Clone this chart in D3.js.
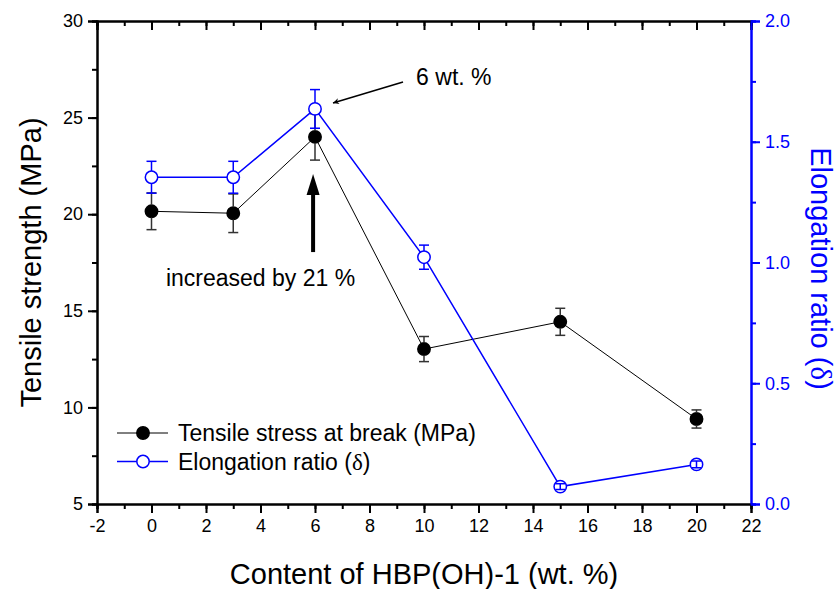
<!DOCTYPE html>
<html>
<head>
<meta charset="utf-8">
<script src="https://cdn.jsdelivr.net/npm/d3@7"></script>
<style>
  html, body { margin: 0; padding: 0; background: #fff; }
  svg { display: block; font-family: "Liberation Sans", Arial, sans-serif; }
</style>
</head>
<body>
<svg id="chart" width="839" height="589"></svg>
<script>
// ---- data ----
const contents = [0, 3, 6, 10, 15, 20];
const tensile = [20.15, 20.05, 24.0, 13.02, 14.43, 9.4];
const tensileErr = [0.95, 1.0, 1.2, 0.65, 0.7, 0.47];
const elongation = [1.353, 1.353, 1.636, 1.022, 0.072, 0.164];
const elongationErr = [0.066, 0.066, 0.08, 0.05, 0.012, 0.014];
const xTicks = [-2, 0, 2, 4, 6, 8, 10, 12, 14, 16, 18, 20, 22];
const yLeftTicks = [5, 10, 15, 20, 25, 30];
const yRightTicks = [0.0, 0.5, 1.0, 1.5, 2.0];
const seriesNames = ["Tensile stress at break (MPa)", "Elongation ratio ("];

const W = 839, H = 589;
const m = { left: 97, right: 88, top: 21, bottom: 85 };
const svg = d3.select("#chart");
const blue = "#0000ff";
const serif = "Liberation Serif, Times New Roman, serif";

const x = d3.scaleLinear().domain([-2, 22]).range([m.left, W - m.right]);
const yL = d3.scaleLinear().domain([5, 30]).range([H - m.bottom, m.top]);
const yR = d3.scaleLinear().domain([0, 2]).range([H - m.bottom, m.top]);

const minorX = d3.range(-2, 22.01, 1);
const minorL = d3.range(5, 30.01, 2.5);
const minorR = d3.range(0, 2.001, 0.25);

function styleAxis(g, color) {
  g.select(".domain").attr("stroke", color).attr("stroke-width", 2);
  g.selectAll(".tick line").attr("stroke", color).attr("stroke-width", 2);
  g.selectAll(".tick text").attr("fill", color).attr("font-size", 18)
    .attr("font-family", "Liberation Sans, Arial, sans-serif");
}
const intFmt = d => String(d);

// minor ticks first
svg.append("g").attr("transform", `translate(0,${H - m.bottom})`)
  .call(d3.axisBottom(x).tickValues(minorX).tickSize(5).tickFormat(""))
  .call(g => styleAxis(g, "#000"));
svg.append("g").attr("transform", `translate(0,${m.top})`)
  .call(d3.axisBottom(x).tickValues(minorX).tickSize(5).tickFormat(""))
  .call(g => styleAxis(g, "#000"));
svg.append("g").attr("transform", `translate(${m.left},0)`)
  .call(d3.axisLeft(yL).tickValues(minorL).tickSize(5).tickFormat(""))
  .call(g => styleAxis(g, "#000"));
svg.append("g").attr("transform", `translate(${W - m.right},0)`)
  .call(d3.axisRight(yR).tickValues(minorR).tickSize(5).tickFormat(""))
  .call(g => styleAxis(g, blue));

// major ticks
svg.append("g").attr("transform", `translate(0,${H - m.bottom})`)
  .call(d3.axisBottom(x).tickValues(xTicks).tickSize(9).tickPadding(6).tickFormat(intFmt))
  .call(g => styleAxis(g, "#000"));
svg.append("g").attr("transform", `translate(0,${m.top})`)
  .call(d3.axisBottom(x).tickValues(xTicks).tickSize(9).tickFormat(""))
  .call(g => styleAxis(g, "#000"));
svg.append("g").attr("transform", `translate(${m.left},0)`)
  .call(d3.axisLeft(yL).tickValues(yLeftTicks).tickSize(9).tickPadding(5).tickFormat(intFmt))
  .call(g => styleAxis(g, "#000"));
svg.append("g").attr("transform", `translate(${W - m.right},0)`)
  .call(d3.axisRight(yR).tickValues(yRightTicks).tickSize(9).tickPadding(5).tickFormat(d3.format(".1f")))
  .call(g => styleAxis(g, blue));

// axis titles
svg.append("text").attr("x", (m.left + W - m.right) / 2 + 0).attr("y", 584)
  .attr("text-anchor", "middle").attr("font-size", 29).text("Content of HBP(OH)-1 (wt. %)");
svg.append("text").attr("transform", `translate(41,${(m.top + H - m.bottom) / 2}) rotate(-90)`)
  .attr("text-anchor", "middle").attr("font-size", 29).text("Tensile strength (MPa)");
const rt = svg.append("text").attr("transform", `translate(811,${(m.top + H - m.bottom) / 2 + 6}) rotate(90)`)
  .attr("text-anchor", "middle").attr("font-size", 29).attr("fill", blue);
rt.append("tspan").text("Elongation ratio (");
rt.append("tspan").attr("font-family", serif).text("\u03b4");
rt.append("tspan").text(")");

const R = 6.2, cap = 5;
function drawSeries(ys, errs, yScale, color, lineW, filled) {
  const pts = contents.map((c, i) => ({ x: c, y: ys[i], e: errs[i] }));
  const g = svg.append("g");
  g.append("path").datum(pts)
    .attr("d", d3.line().x(d => x(d.x)).y(d => yScale(d.y)))
    .attr("fill", "none").attr("stroke", color).attr("stroke-width", lineW);
  g.selectAll("circle").data(pts).join("circle")
    .attr("cx", d => x(d.x)).attr("cy", d => yScale(d.y)).attr("r", R)
    .attr("fill", filled ? color : "#fff").attr("stroke", color).attr("stroke-width", 1.5);
  const eg = g.append("g").attr("stroke", filled ? "#333" : color).attr("stroke-width", 1.5);
  pts.forEach(d => {
    const cx = x(d.x), top = yScale(d.y + d.e), bot = yScale(d.y - d.e), cy = yScale(d.y);
    if (cy - top > R) {
      eg.append("line").attr("x1", cx).attr("x2", cx).attr("y1", top).attr("y2", cy - R);
      eg.append("line").attr("x1", cx).attr("x2", cx).attr("y1", cy + R).attr("y2", bot);
    } else {
      eg.append("line").attr("x1", cx).attr("x2", cx).attr("y1", top).attr("y2", bot);
    }
    eg.append("line").attr("x1", cx - cap).attr("x2", cx + cap).attr("y1", top).attr("y2", top);
    eg.append("line").attr("x1", cx - cap).attr("x2", cx + cap).attr("y1", bot).attr("y2", bot);
  });
}
drawSeries(tensile, tensileErr, yL, "#000", 1, true);
drawSeries(elongation, elongationErr, yR, blue, 1.5, false);

// legend
const legend = [
  { name: seriesNames[0], color: "#000", filled: true, w: 1, greek: false },
  { name: seriesNames[1], color: blue, filled: false, w: 1.5, greek: true }
];
legend.forEach((L, i) => {
  const ly = 433 + i * 28.5;
  svg.append("line").attr("x1", 117).attr("x2", 168).attr("y1", ly).attr("y2", ly)
    .attr("stroke", L.color).attr("stroke-width", L.w);
  svg.append("circle").attr("cx", 143).attr("cy", ly).attr("r", R)
    .attr("fill", L.filled ? L.color : "#fff").attr("stroke", L.color).attr("stroke-width", 1.5);
  const t = svg.append("text").attr("x", 178).attr("y", ly).attr("dy", "0.35em")
    .attr("font-size", 23);
  t.append("tspan").text(L.name);
  if (L.greek) {
    t.append("tspan").attr("font-family", serif).text("\u03b4");
    t.append("tspan").text(")");
  }
});

// annotations
const defs = svg.append("defs");
defs.append("marker").attr("id", "ah").attr("viewBox", "0 0 10 10").attr("refX", 10).attr("refY", 5)
  .attr("markerWidth", 9).attr("markerHeight", 6).attr("markerUnits", "userSpaceOnUse")
  .attr("orient", "auto")
  .append("path").attr("d", "M0,0 L10,5 L0,10 L3,5 Z").attr("fill", "#000");
// thin arrow pointing to 6 wt.% peak
const a1 = { x0: 9.23, y0: 26.84, x1: 6.66, y1: 25.76 };
svg.append("line").attr("x1", x(a1.x0)).attr("y1", yL(a1.y0)).attr("x2", x(a1.x1)).attr("y2", yL(a1.y1))
  .attr("stroke", "#000").attr("stroke-width", 1.5).attr("marker-end", "url(#ah)");
svg.append("text").attr("x", x(9.71)).attr("y", yL(27.1)).attr("dy", "0.35em")
  .attr("font-size", 23).text("6 wt. %");
// thick arrow
const a2 = { x: 5.93, yTip: 22.08, yBase: 18.04 };
const ax = x(a2.x), tipY = yL(a2.yTip), baseY = yL(a2.yBase);
svg.append("line").attr("x1", ax).attr("x2", ax).attr("y1", baseY).attr("y2", tipY + 18)
  .attr("stroke", "#000").attr("stroke-width", 4);
svg.append("path")
  .attr("d", `M${ax},${tipY} L${ax - 6.5},${tipY + 21} L${ax + 6.5},${tipY + 21} Z`)
  .attr("fill", "#000");
svg.append("text").attr("x", x(4.0)).attr("y", yL(16.7)).attr("dy", "0.35em")
  .attr("text-anchor", "middle").attr("font-size", 23).text("increased by 21 %");
</script>
</body>
</html>
